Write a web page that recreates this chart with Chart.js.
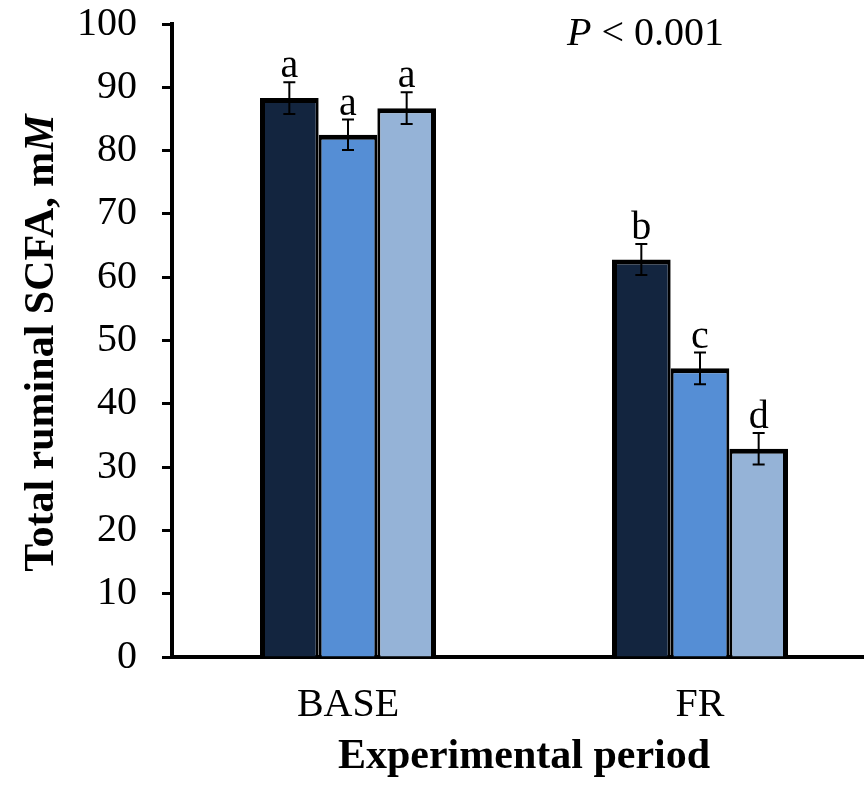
<!DOCTYPE html>
<html>
<head>
<meta charset="utf-8">
<script src="https://cdn.jsdelivr.net/npm/chart.js@4/dist/chart.umd.min.js"></script>
<style>
  html, body { margin: 0; padding: 0; background: #fff; overflow: hidden; width: 864px; height: 787px; }
  canvas { display: block; }
</style>
</head>
<body>
<canvas id="c" width="876" height="787"></canvas>
<script>
// ---- data ----
const categories = ['BASE', 'FR'];
const treatment1 = [88.3, 62.8];
const treatment2 = [82.5, 45.6];
const treatment3 = [86.7, 32.9];
const error1 = [2.5, 2.45];
const error2 = [2.4, 2.5];
const error3 = [2.5, 2.5];
const letters1 = ['a', 'b'];
const letters2 = ['a', 'c'];
const letters3 = ['a', 'd'];
const yTicks = [0, 10, 20, 30, 40, 50, 60, 70, 80, 90, 100];

const serif = '"Liberation Serif", "Times New Roman", serif';
const colors = ['#13253F', '#558ED5', '#95B3D7'];
const errors = [error1, error2, error3];
const letters = [letters1, letters2, letters3];

const annotate = {
  id: 'annotate',
  afterDatasetsDraw(chart) {
    const ctx = chart.ctx;
    const ys = chart.scales.y;
    ctx.save();
    chart.data.datasets.forEach((ds, i) => {
      const meta = chart.getDatasetMeta(i);
      meta.data.forEach((el, j) => {
        const v = ds.data[j], e = errors[i][j];
        const x = el.x;
        const yt = ys.getPixelForValue(v + e);
        const yb = ys.getPixelForValue(v - e);
        ctx.strokeStyle = '#000';
        ctx.lineWidth = 2;
        ctx.beginPath();
        ctx.moveTo(x, yt); ctx.lineTo(x, yb);
        ctx.moveTo(x - 6, yt); ctx.lineTo(x + 6, yt);
        ctx.moveTo(x - 6, yb); ctx.lineTo(x + 6, yb);
        ctx.stroke();
        ctx.fillStyle = '#000';
        ctx.font = '40px ' + serif;
        ctx.textAlign = 'center';
        ctx.textBaseline = 'alphabetic';
        ctx.fillText(letters[i][j], x, yt - 5);
      });
    });
    // P value
    ctx.textAlign = 'left';
    ctx.textBaseline = 'alphabetic';
    ctx.font = 'italic 40px ' + serif;
    ctx.fillText('P', 567, 45);
    const pw = ctx.measureText('P').width;
    ctx.font = '40px ' + serif;
    ctx.fillText(' < 0.001', 567 + pw, 45);
    // Y title
    ctx.translate(53, 343);
    ctx.rotate(-Math.PI / 2);
    ctx.font = 'bold 42px ' + serif;
    const t1 = 'Total ruminal SCFA, m';
    const w1 = ctx.measureText(t1).width;
    ctx.font = 'bold italic 42px ' + serif;
    const w2 = ctx.measureText('M').width;
    const start = -(w1 + w2) / 2;
    ctx.font = 'bold 42px ' + serif;
    ctx.fillText(t1, start, 0);
    ctx.font = 'bold italic 42px ' + serif;
    ctx.fillText('M', start + w1, 0);
    ctx.restore();
  }
};

const borderW = [
  {top: 5, left: 5, right: 3, bottom: 0},
  {top: 5, left: 3, right: 3, bottom: 0},
  {top: 5, left: 3, right: 5, bottom: 0}
];

new Chart(document.getElementById('c'), {
  type: 'bar',
  data: {
    labels: categories,
    datasets: [treatment1, treatment2, treatment3].map((d, i) => ({
      label: 'T' + (i + 1),
      data: d,
      backgroundColor: colors[i],
      borderColor: '#000',
      borderWidth: borderW[i],
      borderSkipped: 'start',
      categoryPercentage: 0.5,
      barPercentage: 1.0
    }))
  },
  options: {
    responsive: false,
    animation: false,
    devicePixelRatio: 1,
    layout: { padding: { top: 1, left: 0, right: 0, bottom: 0 } },
    plugins: { legend: { display: false }, tooltip: { enabled: false } },
    scales: {
      x: {
        offset: true,
        grid: { display: true, drawOnChartArea: false, drawTicks: false, color: 'rgba(0,0,0,0)' },
        border: { display: true, color: '#000', width: 4 },
        ticks: { color: '#000', font: { family: serif, size: 40 }, padding: 24, maxRotation: 0 },
        title: { display: true, text: 'Experimental period', color: '#000',
                 font: { family: serif, size: 42, weight: 'bold' }, padding: { top: 0, bottom: 5 } },
        afterFit(s) { s.height = 130; s.paddingLeft = 0; s.paddingRight = 0; }
      },
      y: {
        min: 0, max: 100,
        afterBuildTicks(s) { s.ticks = yTicks.map(v => ({ value: v })); },
        grid: { display: true, drawOnChartArea: false, drawTicks: true, tickLength: 10,
                tickWidth: 3, tickColor: '#000' },
        border: { display: true, color: '#000', width: 4 },
        ticks: { color: '#000', font: { family: serif, size: 40 }, padding: 25 },
        afterFit(s) { s.width = 172; s.paddingTop = 24; s.paddingBottom = 24; }
      }
    }
  },
  plugins: [annotate]
});
</script>
</body>
</html>
